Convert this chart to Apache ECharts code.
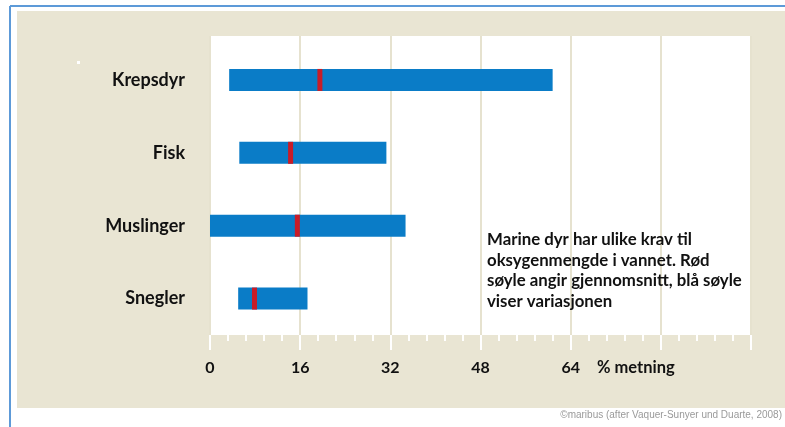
<!DOCTYPE html>
<html><head><meta charset="utf-8">
<script src="https://cdn.jsdelivr.net/npm/echarts@6/dist/echarts.min.js"></script>
<style>html,body{margin:0;padding:0;background:#fff}#c{width:785px;height:427px}</style>
</head><body><div id="c"></div>
<script>
const categories = ['Krepsdyr', 'Fisk', 'Muslinger', 'Snegler'];
const minVals = [3.4, 5.2, 0, 5.0];
const maxVals = [60.8, 31.3, 34.7, 17.3];
const meanVals = [19.5, 14.3, 15.5, 7.9];
const tickLabels = ['0', '16', '32', '48', '64'];
const unitLabel = '% metning';
const noteLines = ['Marine dyr har ulike krav til', 'oksygenmengde i vannet. Rød', 'søyle angir gjennomsnitt, blå søyle', 'viser variasjonen'];
const credit = '\u00A9maribus (after Vaquer-Sunyer und Duarte, 2008)';

const FONT = 'Lato';
const chart = echarts.init(document.getElementById('c'), null, {renderer: 'canvas'});
const rangeVals = maxVals.map((v, i) => v - minVals[i]);

chart.setOption({
  animation: false,
  backgroundColor: '#ffffff',
  graphic: [
    {type: 'rect', z: -10, shape: {x: 17, y: 11, width: 768, height: 397}, style: {fill: '#e9e5d3'}},
    {type: 'line', z: -9, shape: {x1: 10, y1: 6, x2: 785, y2: 6}, style: {stroke: '#5d9ad8', lineWidth: 2}},
    {type: 'line', z: -9, shape: {x1: 10, y1: 6, x2: 10, y2: 427}, style: {stroke: '#5d9ad8', lineWidth: 2}},
    {type: 'rect', z: -8, shape: {x: 77, y: 61, width: 3, height: 3}, style: {fill: '#ffffff'}},
    {type: 'text', left: 597, top: 359, z: 10, style: {text: unitLabel, font: 'bold 16.5px ' + FONT, fill: '#111'}},
    {type: 'text', left: 487, top: 229, z: 10, style: {text: noteLines.join('\n'), font: 'bold 16.8px ' + FONT, lineHeight: 20.8, fill: '#111'}},
    {type: 'text', right: 3, top: 410, z: 10, style: {text: credit, font: '10px "Liberation Sans"', fill: '#9a9a9a'}}
  ],
  grid: [
    {left: 210, right: 34, top: 36, bottom: 92, show: true, backgroundColor: '#ffffff', borderWidth: 0, z: 0},
    {left: 210, right: 34, top: 43.5, bottom: 92, show: false}
  ],
  xAxis: [
    {
      gridIndex: 0, type: 'value', min: 0, max: 96, interval: 16,
      axisLine: {show: false},
      axisTick: {show: true, length: 15, lineStyle: {color: '#ffffff', width: 2}},
      minorTick: {show: true, splitNumber: 5, length: 6, lineStyle: {color: '#ffffff', width: 2}},
      splitLine: {show: true, lineStyle: {color: '#e6e2cf', width: 2}},
      axisLabel: {
        margin: 25, color: '#111', fontFamily: FONT, fontWeight: 'bold', fontSize: 16,
        formatter: function (v) { const i = Math.round(v / 16); return (i < tickLabels.length) ? tickLabels[i] : ''; }
      }
    },
    {gridIndex: 1, type: 'value', min: 0, max: 96, show: false}
  ],
  yAxis: [
    {gridIndex: 0, type: 'value', show: false},
    {
      gridIndex: 1, type: 'category', data: categories, inverse: true,
      axisLine: {show: false}, axisTick: {show: false}, splitLine: {show: false},
      axisLabel: {margin: 25, color: '#111', fontFamily: FONT, fontWeight: 'bold', fontSize: 18}
    }
  ],
  series: [
    {type: 'bar', xAxisIndex: 1, yAxisIndex: 1, stack: 'r', data: minVals, barWidth: 22, itemStyle: {color: 'transparent'}, z: 2},
    {type: 'bar', xAxisIndex: 1, yAxisIndex: 1, stack: 'r', data: rangeVals, barWidth: 22, itemStyle: {color: '#0a7cc7'}, z: 2},
    {type: 'scatter', xAxisIndex: 1, yAxisIndex: 1, data: meanVals.map((v, i) => [v, categories[i]]),
     symbol: 'rect', symbolSize: [5, 22], itemStyle: {color: '#c81c28', opacity: 1}, z: 3}
  ]
});
</script></body></html>
